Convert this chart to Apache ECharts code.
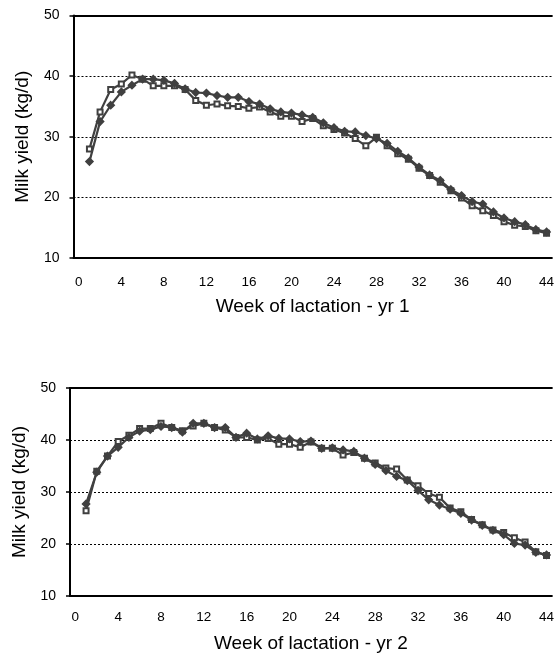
<!DOCTYPE html>
<html>
<head>
<meta charset="utf-8">
<script src="https://cdn.jsdelivr.net/npm/echarts@6/dist/echarts.min.js"></script>
<style>
  html, body { margin: 0; padding: 0; background: #fff; }
  #main { width: 557px; height: 654px; }
</style>
</head>
<body>
<div id="main"></div>
<script>
// weeks 0..44 (category 0 carries no data)
const weeks = []
for (let i = 0; i <= 44; i++) weeks.push(String(i))

// year 1
const yr1SeriesA = [null, 28.0, 34.1, 37.8, 38.7, 40.2, 39.5, 38.4, 38.4, 38.4, 37.8, 36.0, 35.2, 35.4, 35.1, 35.0, 34.7, 34.9, 34.1, 33.4, 33.4,
  32.5, 33.0, 31.8, 31.2, 30.6, 29.7, 28.5, 29.9, 28.5, 27.2, 26.3, 24.8, 23.6, 22.5, 21.1, 19.9, 18.6, 17.8, 17.0, 16.0, 15.4, 15.2, 14.5, 14.1]
const yr1SeriesB = [null, 25.9, 32.5, 35.2, 37.4, 38.5, 39.5, 39.5, 39.3, 38.8, 37.9, 37.3, 37.2, 36.8, 36.5, 36.5, 35.8, 35.4, 34.6, 34.1, 33.9,
  33.6, 33.2, 32.3, 31.5, 30.9, 30.8, 30.2, 29.7, 28.9, 27.6, 26.5, 25.0, 23.7, 22.8, 21.3, 20.3, 19.3, 18.9, 17.6, 16.6, 16.0, 15.5, 14.7, 14.3]

// year 2
const yr2SeriesA = [null, 26.4, 34.0, 36.9, 39.7, 40.9, 42.2, 42.2, 43.2, 42.4, 41.8, 42.7, 43.2, 42.4, 41.9, 40.5, 40.5, 40.0, 40.3, 39.2, 39.2,
  38.6, 39.6, 38.4, 38.4, 37.1, 37.6, 36.5, 35.6, 34.6, 34.4, 32.3, 31.2, 29.7, 29.0, 26.9, 26.2, 24.7, 23.7, 22.7, 22.2, 21.2, 20.4, 18.5, 17.8]
const yr2SeriesB = [null, 27.7, 33.8, 36.9, 38.6, 40.5, 41.7, 42.0, 42.6, 42.4, 41.5, 43.2, 43.2, 42.4, 42.4, 40.5, 41.3, 40.2, 40.8, 40.3, 40.2,
  39.7, 39.8, 38.4, 38.5, 38.1, 37.8, 36.5, 35.3, 34.1, 33.0, 32.2, 30.3, 28.5, 27.5, 26.7, 25.9, 24.6, 23.6, 22.6, 21.8, 20.1, 19.8, 18.4, 17.9]

const xNames = ['Week of lactation - yr 1', 'Week of lactation - yr 2']
const yName = 'Milk yield (kg/d)'

const chartObj = echarts.init(document.getElementById('main'))
const lineColor = '#404040'
const font = 'Liberation Sans, Arial, sans-serif'

// 坐标轴名称样式
const nameStyle = { color: '#000', fontSize: 19, fontFamily: font }

function bottomAxis(gridIndex, name, labelMargin, nameGap) {
  return {
    gridIndex: gridIndex,
    type: 'category',
    data: weeks,
    boundaryGap: true,
    name: name,
    nameLocation: 'middle',
    nameGap: nameGap,
    nameTextStyle: nameStyle,
    axisLine: { lineStyle: { color: '#000', width: 2 } },
    axisTick: { interval: 3, inside: true, length: 5, lineStyle: { color: '#000', width: 1.5 } },
    axisLabel: { interval: 3, margin: labelMargin, color: '#000', fontSize: 13.5, fontFamily: font },
    splitLine: { show: false }
  }
}

function topBorder(gridIndex) {
  return {
    gridIndex: gridIndex,
    type: 'category',
    data: weeks,
    position: 'top',
    axisLine: { lineStyle: { color: '#000', width: 2 } },
    axisTick: { show: false },
    axisLabel: { show: false }
  }
}

function leftAxis(gridIndex, nameGap) {
  return {
    gridIndex: gridIndex,
    type: 'value',
    min: 10,
    max: 50,
    interval: 10,
    name: yName,
    nameLocation: 'middle',
    nameGap: nameGap,
    nameTextStyle: nameStyle,
    axisLine: { show: true, lineStyle: { color: '#000', width: 2 } },
    axisTick: { show: true, length: 4, lineStyle: { color: '#000', width: 1.5 } },
    axisLabel: { margin: 14, color: '#000', fontSize: 14, fontFamily: font },
    splitLine: { show: true, lineStyle: { color: '#000', width: 1, type: [2, 2] } }
  }
}

function lineSeries(idx, data, symbol, size) {
  return {
    type: 'line',
    xAxisIndex: idx * 2,
    yAxisIndex: idx,
    data: data,
    symbol: symbol,
    symbolSize: size,
    showAllSymbol: true,
    connectNulls: false,
    lineStyle: { color: lineColor, width: 2.2 },
    itemStyle: { color: lineColor, borderColor: lineColor, borderWidth: 1.6 },
    emphasis: { disabled: true },
    animation: false
  }
}

const option = {
  backgroundColor: '#fff',
  animation: false,
  grid: [
    { left: 73.5, top: 15.5, width: 483.5, height: 242.5 },
    { left: 70, top: 388, width: 483.75, height: 208 }
  ],
  xAxis: [
    bottomAxis(0, xNames[0], 17, 39),
    topBorder(0),
    bottomAxis(1, xNames[1], 14, 38),
    topBorder(1)
  ],
  yAxis: [
    leftAxis(0, 41),
    leftAxis(1, 37)
  ],
  series: [
    lineSeries(0, yr1SeriesA, 'emptyRect', 5),
    lineSeries(0, yr1SeriesB, 'diamond', 7),
    lineSeries(1, yr2SeriesA, 'emptyRect', 5),
    lineSeries(1, yr2SeriesB, 'diamond', 7)
  ]
}
chartObj.setOption(option, true)
</script>
</body>
</html>
